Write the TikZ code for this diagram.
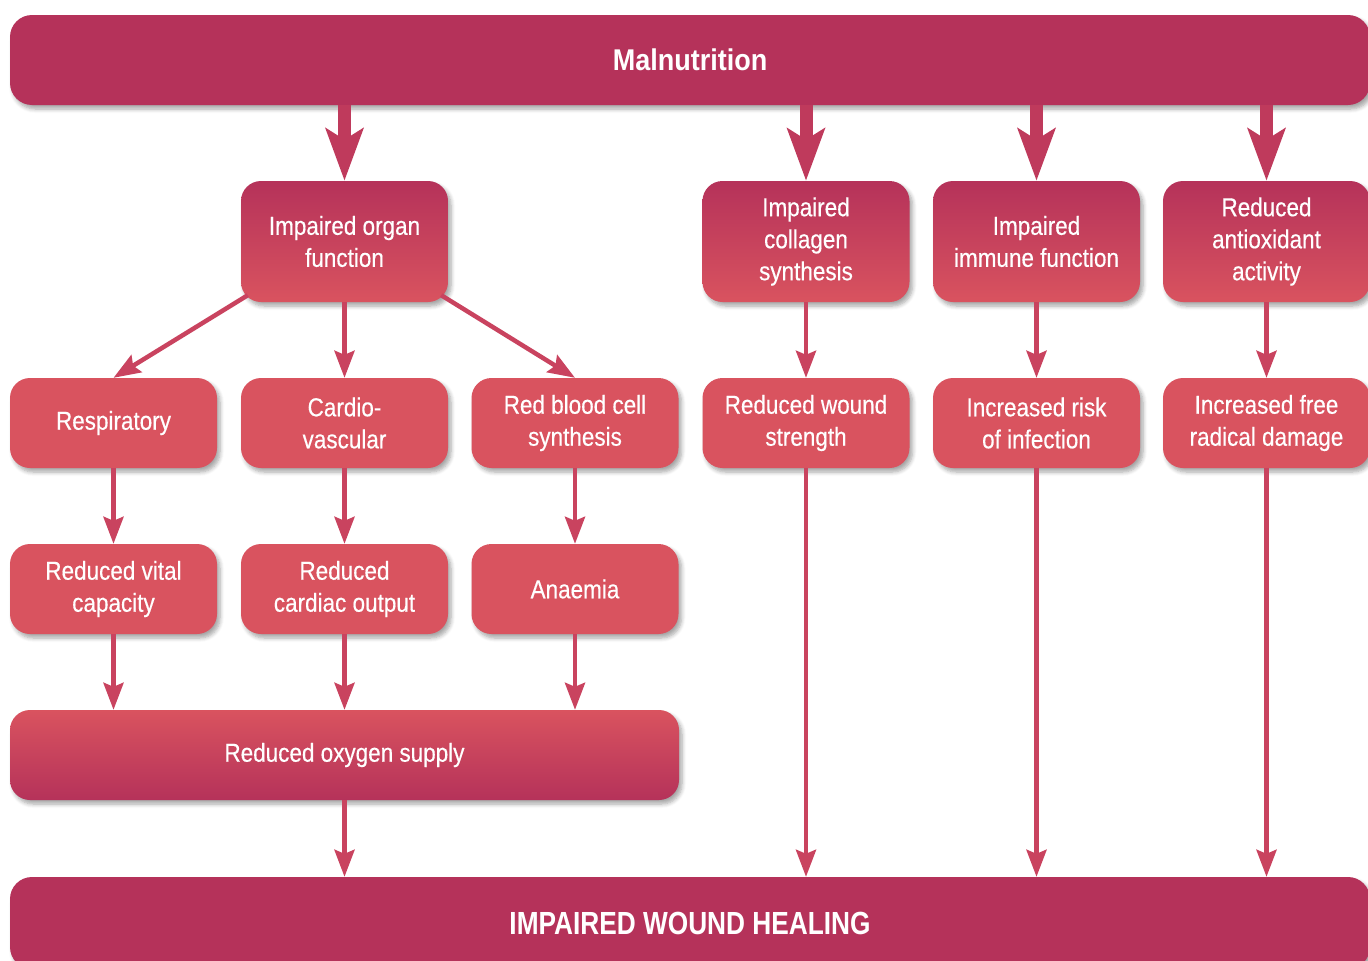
\documentclass[tikz,border=0pt]{standalone}
\usepackage{fontspec}
\setmainfont{Liberation Sans}
\newfontfamily\cn[FakeStretch=0.865,FakeBold=0.4]{Liberation Sans}
\newfontfamily\cnbm[FakeStretch=0.9]{Liberation Sans}
\newfontfamily\cnbb[FakeStretch=0.82]{Liberation Sans}
\usetikzlibrary{arrows.meta,shadows.blur,calc}
\definecolor{dk}{HTML}{B5325A}
\definecolor{lt}{HTML}{D9535F}
\definecolor{arr}{HTML}{C9435F}
\definecolor{fatc}{HTML}{BF3A5C}
\tikzset{
  x=1pt,y=-1pt,
  shad/.style={blur shadow={shadow xshift=3pt,shadow yshift=-4pt,shadow opacity=35,shadow blur steps=6,shadow blur radius=4pt}},
  basebox/.style={rectangle,rounded corners=20pt,inner sep=0pt,align=center,text=white,
    font={\cn\fontsize{26}{32}\selectfont},shad},
  topbox/.style={basebox,minimum width=207pt,minimum height=121pt,top color=dk,bottom color=lt},
  midbox/.style={basebox,minimum width=207pt,minimum height=90pt,fill=lt},
  oxbox/.style={basebox,minimum width=669pt,minimum height=90pt,top color=lt,bottom color=dk},
  bar/.style={rectangle,rounded corners=22pt,inner sep=0pt,fill=dk,text=white,minimum width=1360pt,minimum height=90pt,shad},
  thinarr/.style={draw=arr,line width=4.5pt,-{Stealth[length=27pt,width=20pt,inset=4pt]}},
  fatarr/.style={draw=fatc,line width=13pt,-{Stealth[length=52pt,width=37pt,inset=11pt]}},
}
\begin{document}
\begin{tikzpicture}
\useasboundingbox (0,0) rectangle (1368,961);
% bars
\node[bar,font={\cnbm\bfseries\fontsize{30}{34}\selectfont}] (mal) at (690,60) {Malnutrition};
\node[bar,font={\cnbb\bfseries\fontsize{32}{38}\selectfont},minimum height=92pt] (iwh) at (690,923) {IMPAIRED WOUND HEALING};
% row 1
\node[topbox] (org) at (344.5,241.5) {Impaired organ\\function};
\node[topbox] (col) at (806,241.5) {Impaired\\collagen\\synthesis};
\node[topbox] (imm) at (1036.5,241.5) {Impaired\\immune function};
\node[topbox] (ant) at (1266.5,241.5) {Reduced\\antioxidant\\activity};
% row 2
\node[midbox] (resp) at (113.5,423) {Respiratory};
\node[midbox] (card) at (344.5,423) {Cardio-\\vascular};
\node[midbox] (rbc) at (575,423) {Red blood cell\\synthesis};
\node[midbox] (rws) at (806,423) {Reduced wound\\strength};
\node[midbox] (inf) at (1036.5,423) {Increased risk\\of infection};
\node[midbox] (frd) at (1266.5,423) {Increased free\\radical damage};
% row 3
\node[midbox] (rvc) at (113.5,589) {Reduced vital\\capacity};
\node[midbox] (rco) at (344.5,589) {Reduced\\cardiac output};
\node[midbox] (ana) at (575,589) {Anaemia};
% oxygen
\node[oxbox] (oxy) at (344.5,755) {Reduced oxygen supply};
% fat arrows
\foreach \n in {org,col,imm,ant}{
  \draw[fatarr] (mal.south -| \n.north) -- (\n.north);
}
% diagonal arrows
\draw[thinarr] ([shift={(7,-7)}]org.south west) -- (resp.north);
\draw[thinarr] ([shift={(-7,-7)}]org.south east) -- (rbc.north);
% vertical arrows
\draw[thinarr] (org) -- (card);
\draw[thinarr] (col) -- (rws);
\draw[thinarr] (imm) -- (inf);
\draw[thinarr] (ant) -- (frd);
\draw[thinarr] (resp) -- (rvc);
\draw[thinarr] (card) -- (rco);
\draw[thinarr] (rbc) -- (ana);
\draw[thinarr] (rvc) -- (oxy.north -| rvc.south);
\draw[thinarr] (rco) -- (oxy.north -| rco.south);
\draw[thinarr] (ana) -- (oxy.north -| ana.south);
\draw[thinarr] (oxy) -- (iwh.north -| oxy.south);
\draw[thinarr] (rws) -- (iwh.north -| rws.south);
\draw[thinarr] (inf) -- (iwh.north -| inf.south);
\draw[thinarr] (frd) -- (iwh.north -| frd.south);
\end{tikzpicture}
\end{document}
